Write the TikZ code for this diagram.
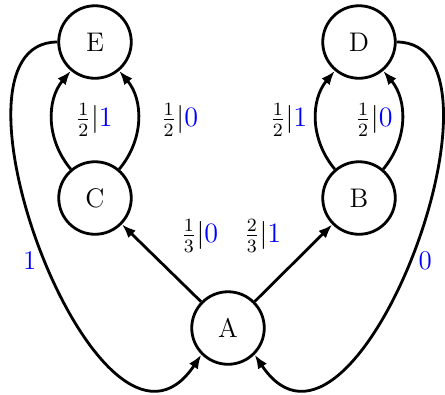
\documentclass[tikz,border=0pt]{standalone}
\usetikzlibrary{arrows.meta}

\begin{document}
\begin{tikzpicture}[
    x=0.4274pt, y=-0.4274pt,
    every node/.style={font=\fontsize{11.5}{14}\selectfont},
    state/.style={draw, circle, very thick, minimum size=31pt, inner sep=0pt},
    trans/.style={-{Latex[length=6pt]}, very thick},
    outbit/.style={text=blue}
]
\useasboundingbox (0,0) rectangle (445,394);
\node[state] (A) at (228,328) {A};
\node[state] (C) at (95,198) {C};
\node[state] (B) at (359,198) {B};
\node[state] (E) at (95,42) {E};
\node[state] (D) at (359,42) {D};
\draw[trans] (A) -- node[pos=.5, shift={(38,-27)}] {$\frac{1}{3}|{\color{blue}0}$} (C);
\draw[trans] (A) -- node[pos=.5, shift={(-31,-27)}] {$\frac{2}{3}|{\color{blue}1}$} (B);
\draw[trans] (C) to[bend left=40] node[right=6pt] {$\frac{1}{2}|{\color{blue}1}$} (E);
\draw[trans] (C) to[bend right=40] node[right=6pt] {$\frac{1}{2}|{\color{blue}0}$} (E);
\draw[trans] (B) to[bend left=40] node[left] {$\frac{1}{2}|{\color{blue}1}$} (D);
\draw[trans] (B) to[bend right=40] node[left] {$\frac{1}{2}|{\color{blue}0}$} (D);
\draw[trans] (E.west) .. controls +(-130,0) and +(-100,150) .. node[pos=.51, left, outbit] {1} (A.225);
\draw[trans] (D.east) .. controls +(130,0) and +(100,150) .. node[pos=.51, right, outbit] {0} (A.315);
\end{tikzpicture}
\end{document}
